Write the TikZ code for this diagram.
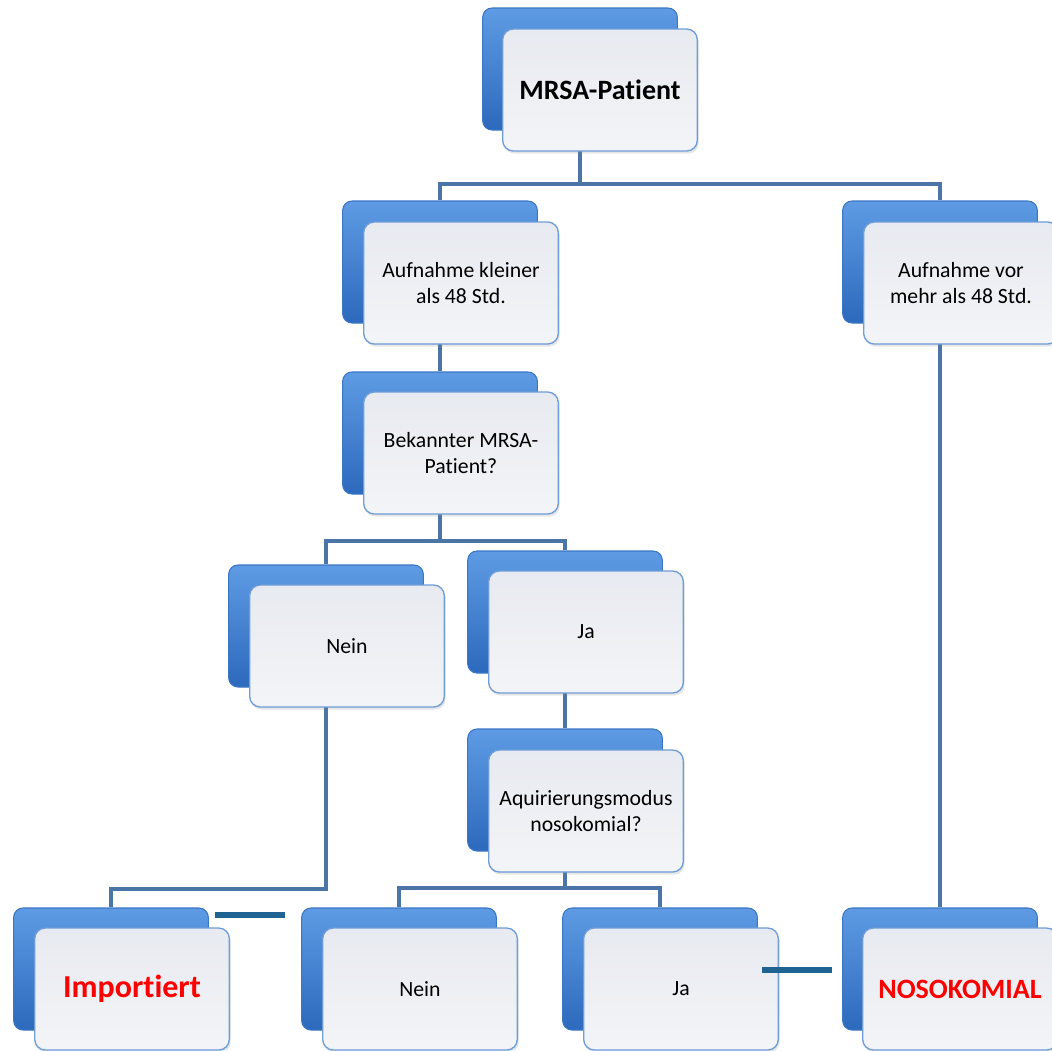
\documentclass[tikz,border=0pt]{standalone}
\usepackage{fontspec}
\setmainfont[Ligatures=NoCommon]{Carlito}
\usetikzlibrary{shadows}
\definecolor{backtop}{HTML}{5E9BE4}
\definecolor{backbot}{HTML}{2D69BC}
\definecolor{backline}{HTML}{3A76C4}
\definecolor{frontfill}{HTML}{E7EAF0}
\definecolor{frontline}{HTML}{6E9DD8}
\definecolor{connline}{HTML}{4A75A6}
\definecolor{dashteal}{HTML}{1E6392}
\begin{document}
\begin{tikzpicture}[x=0.75pt, y=-0.75pt,
  back/.style={rounded corners=7pt, top color=backtop, bottom color=backbot, draw=backline, line width=0.8pt, minimum width=146pt, minimum height=91.5pt, inner sep=0pt},
  front/.style={rounded corners=8pt, draw=frontline, line width=1pt, top color=frontfill, bottom color=frontfill!50!white, drop shadow={opacity=0.2, shadow xshift=1pt, shadow yshift=-2pt}, minimum width=146pt, minimum height=91.5pt, inner sep=0pt, align=center, font=\fontsize{16.3}{19.5}\selectfont},
  redtext/.style={text=red, font=\bfseries\fontsize{24}{28}\selectfont},
  conn/.style={draw=connline, line width=3pt},
  dashline/.style={draw=dashteal, line width=3.8pt}]
  \useasboundingbox (0,0) rectangle (1052,1050);
  \clip (0,0) rectangle (1052,1050);

  % back boxes
  \node[back] (rootB) at (580,69) {};
  \node[back] (kleinB) at (440,262) {};
  \node[back] (vorB) at (940,262) {};
  \node[back] (bekanntB) at (440,433) {};
  \node[back] (nein1B) at (326,626) {};
  \node[back] (ja1B) at (565,612) {};
  \node[back] (aquirB) at (565,790) {};
  \node[back] (importB) at (111,969) {};
  \node[back] (nein2B) at (399,969) {};
  \node[back] (ja2B) at (660,969) {};
  \node[back] (nosoB) at (940,969) {};

  % connectors
  \draw[conn] (rootB.south) -- ++(0,53) -| (kleinB.north);
  \draw[conn] (rootB.south) -- ++(0,53) -| (vorB.north);
  \draw[conn] (kleinB.south) -- (bekanntB.north);
  \draw[conn] (bekanntB.south) -- ++(0,46) -| (nein1B.north);
  \draw[conn] (bekanntB.south) -- ++(0,46) -| (ja1B.north);
  \draw[conn] (ja1B.south) -- (aquirB.north);
  \draw[conn] (nein1B.south) -- ++(0,201) -| (importB.north);
  \draw[conn] (aquirB.south) -- ++(0,36) -| (nein2B.north);
  \draw[conn] (aquirB.south) -- ++(0,36) -| (ja2B.north);
  \draw[conn] (vorB.south) -- (nosoB.north);

  % front boxes
  \node[front, font=\bfseries\fontsize{21}{25}\selectfont] (root) at (600,90) {MRSA-Patient};
  \node[front] (klein) at (461,283) {Aufnahme kleiner\\als 48 Std.};
  \node[front] (vor) at (961,283) {Aufnahme vor\\mehr als 48 Std.};
  \node[front] (bekannt) at (461,453) {Bekannter MRSA-\\Patient?};
  \node[front] (nein1) at (347,646) {Nein};
  \node[front] (ja1) at (586,632) {Ja};
  \node[front] (aquir) at (586,811) {Aquirierungsmodus\\nosokomial?};
  \node[front, redtext] (import) at (132,989) {Importiert};
  \node[front] (nein2) at (420,989) {Nein};
  \node[front] (ja2) at (681,989) {Ja};
  \node[front, redtext, font=\bfseries\fontsize{21}{25}\selectfont] (noso) at (960,989) {NOSOKOMIAL};

  % loose strokes
  \coordinate (d1a) at (215,915);
  \coordinate (d1b) at (285,915);
  \coordinate (d2a) at (762,970);
  \coordinate (d2b) at (832,970);
  \draw[dashline] (d1a) -- (d1b);
  \draw[dashline] (d2a) -- (d2b);
\end{tikzpicture}
\end{document}
